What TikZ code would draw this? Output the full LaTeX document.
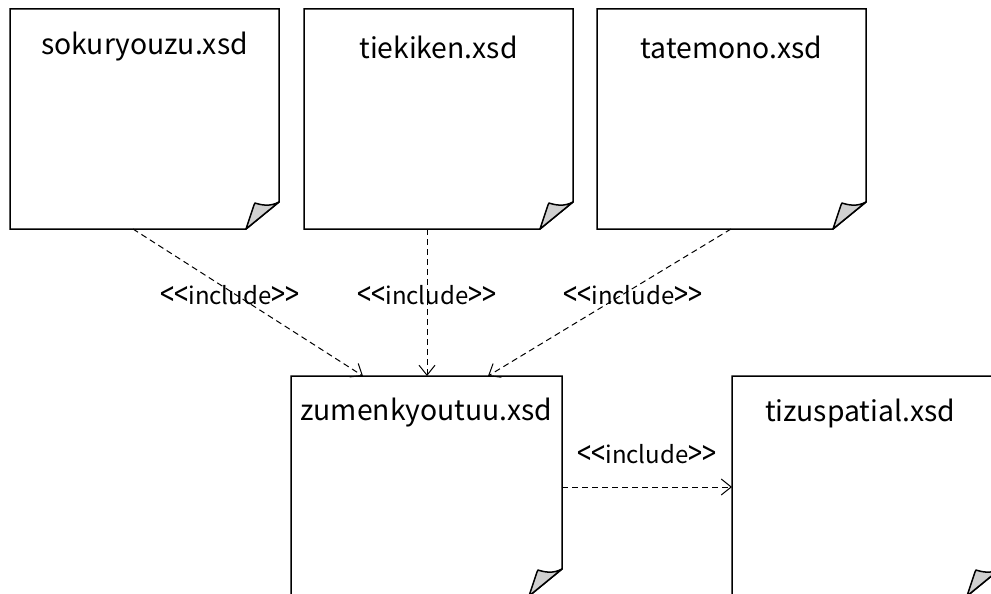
\documentclass[tikz,border=0pt]{standalone}
\usepackage{graphicx}
\usepackage{fontspec}
\setmainfont{Noto Sans CJK JP}
\usetikzlibrary{arrows.meta}
\definecolor{flapgray}{RGB}{208,208,208}
\tikzset{
  docbox/.style={draw=none, inner sep=0pt, outer sep=0pt},
  doctitle/.style={font=\fontsize{28.3}{32}\selectfont, inner sep=0pt},
  deplabel/.style={font=\fontsize{24}{28}\selectfont, inner sep=0pt},
  dep/.style={draw=black, line width=1pt, dash pattern=on 6pt off 4pt,
    -{Straight Barb[length=10pt,width=16pt,line width=1pt]}},
  outline/.style={draw=black, line width=1.5pt, line join=miter},
  flap/.style={draw=black, line width=1.5pt, fill=flapgray, line join=round}
}
\newcommand{\docshape}[1]{%
  \draw[outline] (#1.north west) -- (#1.north east) -- ([yshift=27pt]#1.south east)
    -- ([xshift=-33pt]#1.south east) -- (#1.south west) -- cycle;
  \draw[flap] ([yshift=27pt]#1.south east)
    .. controls ([xshift=-9pt,yshift=22pt]#1.south east) and ([xshift=-18pt,yshift=24pt]#1.south east)
    .. ([xshift=-24pt,yshift=26pt]#1.south east)
    -- ([xshift=-25pt,yshift=24pt]#1.south east)
    -- ([xshift=-33pt]#1.south east) -- cycle;
}
\newcommand{\lch}{\raisebox{-0.08em}{\scalebox{1.05}[1.4]{<}}}
\newcommand{\rch}{\raisebox{-0.08em}{\scalebox{1.05}[1.4]{>}}}
\newcommand{\incl}{\lch\lch include\rch\rch}
\begin{document}
\begin{tikzpicture}[x=1pt,y=-1pt]
\useasboundingbox (0,0) rectangle (991,594);
\fill[white] (0,0) rectangle (991,594);
% boxes
\node[docbox, minimum width=269pt, minimum height=220pt] (sok) at (144.5,119) {};
\node[docbox, minimum width=269pt, minimum height=220pt] (tie) at (438.5,119) {};
\node[docbox, minimum width=269pt, minimum height=220pt] (tat) at (731.5,119) {};
\node[docbox, minimum width=271pt, minimum height=220pt] (zum) at (426.5,486) {};
\node[docbox, minimum width=268pt, minimum height=220pt] (tiz) at (866,486) {};
\docshape{sok}
\docshape{tie}
\docshape{tat}
\docshape{zum}
\docshape{tiz}
% titles
\node[doctitle] (tsok) at (144.5,47) {sokuryouzu.xsd};
\node[doctitle] (ttie) at (438.5,47) {tiekiken.xsd};
\node[doctitle] (ttat) at (731.5,47) {tatemono.xsd};
\node[doctitle] (tzum) at (426.5,413) {zumenkyoutuu.xsd};
\node[doctitle] (ttiz) at (860,413) {tizuspatial.xsd};
% connectors
\draw[dep] ([xshift=-11.5pt]sok.south) -- ([xshift=-63.5pt]zum.north);
\draw[dep] ([xshift=-11.5pt]tie.south) -- ([xshift=0.5pt]zum.north);
\draw[dep] ([xshift=-0.5pt]tat.south) -- ([xshift=61.5pt]zum.north);
\draw[dep] ([yshift=-1pt]zum.east) -- ([yshift=-1pt]tiz.west);
% labels
\node[deplabel] (l1) at (230,296) {\incl};
\node[deplabel] (l2) at (427,296) {\incl};
\node[deplabel] (l3) at (633,296) {\incl};
\node[deplabel] (l4) at (647,455) {\incl};
\end{tikzpicture}
\end{document}
